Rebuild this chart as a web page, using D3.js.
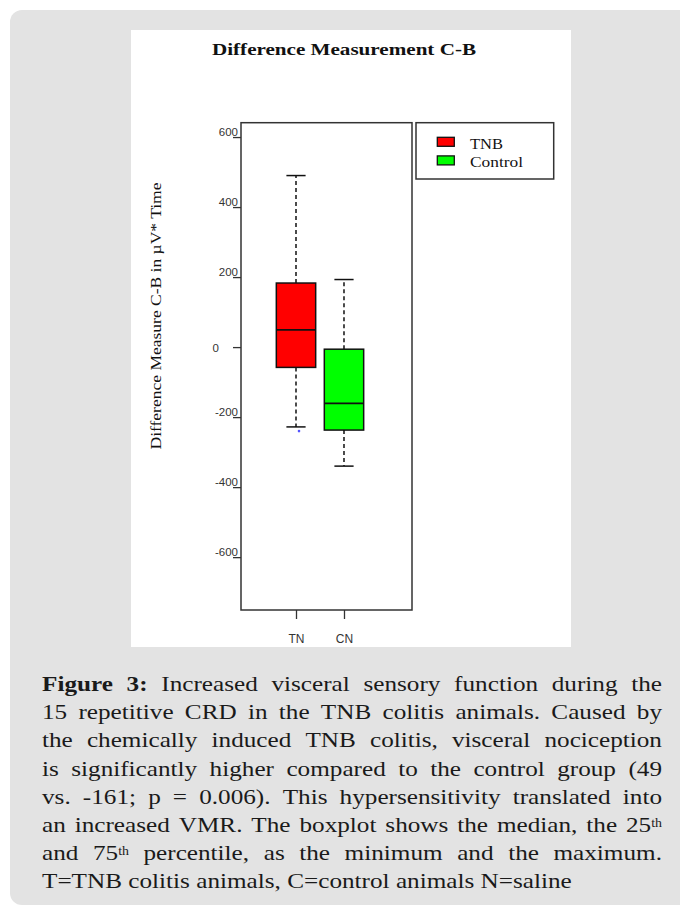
<!DOCTYPE html>
<html>
<head>
<meta charset="utf-8">
<script src="https://cdn.jsdelivr.net/npm/d3@7"></script>
<style>
  html, body { margin: 0; padding: 0; background: #ffffff; }
  svg { display: block; }
</style>
</head>
<body>
<svg id="chart" width="680" height="916"></svg>
<script>
// ---------------- data ----------------
const groups = ["TN", "CN"];
const legendLabels = ["TNB", "Control"];
const boxColors = ["#ff0000", "#00ff00"];
const whiskerMin = [-228, -340];
const q1 = [-58, -237];
const medians = [49, -161];
const q3 = [183, -6];
const whiskerMax = [490, 193];
const outliers = [[0, -240]];          // [group index, value]
const yTicks = [600, 400, 200, 0, -200, -400, -600];
const titleText = "Difference Measurement C-B";
const yLabel = "Difference Measure C-B in \u00b5V* Time";
const captionLines = [
  [{t:"Figure 3:", b:true}, {t:" Increased visceral sensory function during the"}],
  [{t:"15 repetitive CRD in the TNB colitis animals. Caused by"}],
  [{t:"the chemically induced TNB colitis, visceral nociception"}],
  [{t:"is significantly higher compared to the control group (49"}],
  [{t:"vs. -161; p = 0.006). This hypersensitivity translated into"}],
  [{t:"an increased VMR. The boxplot shows the median, the 25"}, {t:"th", sup:true}],
  [{t:"and 75"}, {t:"th", sup:true}, {t:" percentile, as the minimum and the maximum."}],
  [{t:"T=TNB colitis animals, C=control animals N=saline"}]
];

// ---------------- layout ----------------
const svg = d3.select("#chart");
const frame = {left: 241, right: 412, top: 122.7, bottom: 610};

svg.append("rect").attr("x", 10).attr("y", 10).attr("width", 690).attr("height", 895)
  .attr("rx", 12).attr("fill", "#e3e3e3");
svg.append("rect").attr("x", 131).attr("y", 30).attr("width", 440).attr("height", 617)
  .attr("fill", "#ffffff");

const y = d3.scaleLinear().domain([-751, 641]).range([frame.bottom, frame.top]);
const x = d3.scaleLinear().domain([-0.146, 3.417]).range([frame.left, frame.right]);
const pos = groups.map((g, i) => i + 1);
const halfW = 0.41, capW = 0.2;

// title
svg.append("text").attr("x", 344).attr("y", 55).attr("text-anchor", "middle")
  .attr("font-family", "Liberation Serif, serif").attr("font-weight", "bold")
  .attr("font-size", 17).attr("textLength", 264).attr("lengthAdjust", "spacingAndGlyphs")
  .attr("fill", "#111").text(titleText);

// y label
svg.append("text").attr("transform", "translate(161,316) rotate(-90)")
  .attr("text-anchor", "middle").attr("font-family", "Liberation Serif, serif")
  .attr("font-size", 14).attr("textLength", 267).attr("lengthAdjust", "spacingAndGlyphs")
  .attr("fill", "#111").text(yLabel);

// y axis ticks
const yAxis = d3.axisLeft(y).tickValues(yTicks).tickSize(8).tickFormat(d => String(d));
const gy = svg.append("g").attr("transform", `translate(${frame.left},0)`).call(yAxis);
gy.select(".domain").remove();
gy.selectAll(".tick line").attr("stroke", "#333").attr("stroke-width", 1.3);
gy.selectAll(".tick text")
  .attr("font-family", "Liberation Sans, Arial, sans-serif").attr("font-size", 11.5)
  .attr("fill", "#333")
  .attr("x", d => d === 0 ? -22 : -3)
  .attr("dy", d => d === 0 ? "0.35em" : "-0.15em");

// x axis ticks
const xAxis = d3.axisBottom(x).tickValues(pos).tickSize(9).tickFormat((d, i) => groups[i]);
const gx = svg.append("g").attr("transform", `translate(0,${frame.bottom})`).call(xAxis);
gx.select(".domain").remove();
gx.selectAll(".tick line").attr("stroke", "#333").attr("stroke-width", 1.3);
gx.selectAll(".tick text")
  .attr("font-family", "Liberation Sans, Arial, sans-serif").attr("font-size", 12)
  .attr("fill", "#333").attr("y", 24);

// plot frame
svg.append("rect").attr("x", frame.left).attr("y", frame.top)
  .attr("width", frame.right - frame.left).attr("height", frame.bottom - frame.top)
  .attr("fill", "none").attr("stroke", "#333").attr("stroke-width", 1.5);

// boxes
const gb = svg.append("g");
groups.forEach((g, i) => {
  const cx = x(pos[i]);
  gb.append("line").attr("x1", cx).attr("x2", cx).attr("y1", y(q3[i])).attr("y2", y(whiskerMax[i]))
    .attr("stroke", "#111").attr("stroke-width", 1.5).attr("stroke-dasharray", "4,3");
  gb.append("line").attr("x1", cx).attr("x2", cx).attr("y1", y(q1[i])).attr("y2", y(whiskerMin[i]))
    .attr("stroke", "#111").attr("stroke-width", 1.5).attr("stroke-dasharray", "4,3");
  [whiskerMax[i], whiskerMin[i]].forEach(v => {
    gb.append("line").attr("x1", x(pos[i] - capW)).attr("x2", x(pos[i] + capW))
      .attr("y1", y(v)).attr("y2", y(v)).attr("stroke", "#111").attr("stroke-width", 1.5);
  });
  gb.append("rect").attr("x", x(pos[i] - halfW)).attr("y", y(q3[i]))
    .attr("width", x(pos[i] + halfW) - x(pos[i] - halfW)).attr("height", y(q1[i]) - y(q3[i]))
    .attr("fill", boxColors[i]).attr("stroke", "#111").attr("stroke-width", 1.5);
  gb.append("line").attr("x1", x(pos[i] - halfW)).attr("x2", x(pos[i] + halfW))
    .attr("y1", y(medians[i])).attr("y2", y(medians[i])).attr("stroke", "#111").attr("stroke-width", 1.8);
});
outliers.forEach(([gi, v]) => {
  gb.append("circle").attr("cx", x(pos[gi]) + 3).attr("cy", y(v)).attr("r", 1.3).attr("fill", "#5555ff");
});

// legend
const lg = svg.append("g");
lg.append("rect").attr("x", 416).attr("y", 122.7).attr("width", 137.7).attr("height", 56.3)
  .attr("fill", "#fff").attr("stroke", "#333").attr("stroke-width", 1.5);
const legendLens = [33, 53];
legendLabels.forEach((l, i) => {
  const yy = 137.3 + i * 18.6;
  lg.append("rect").attr("x", 437.3).attr("y", yy).attr("width", 17).attr("height", 9)
    .attr("fill", boxColors[i]).attr("stroke", "#111").attr("stroke-width", 1.3);
  lg.append("text").attr("x", 470).attr("y", yy + 11.5).attr("font-family", "Liberation Serif, serif")
    .attr("font-size", 15).attr("textLength", legendLens[i]).attr("lengthAdjust", "spacingAndGlyphs")
    .attr("fill", "#111").text(l);
});

// caption (justified, horizontally widened serif)
const capX0 = 42, capX1 = 662, capY0 = 691, capLH = 28.2, capFS = 21, sx = 1.2;
captionLines.forEach((segs, li) => {
  const yy = capY0 + li * capLH;
  const tokens = [];
  segs.forEach(s => {
    if (s.sup) { tokens.push({t: s.t, sup: true, attach: true}); return; }
    const parts = s.t.split(" ");
    parts.forEach((p, k) => {
      if (p === "") return;
      tokens.push({t: p, b: s.b, attach: (k === 0 && tokens.length > 0 && !s.t.startsWith(" "))});
    });
  });
  const words = [];
  tokens.forEach(tk => {
    if (tk.attach && words.length) words[words.length - 1].push(tk);
    else words.push([tk]);
  });
  const g = svg.append("g");
  const wEls = words.map(w => {
    const t = g.append("text").attr("font-family", "Liberation Serif, serif")
      .attr("font-size", capFS).attr("fill", "#1a1a1a");
    w.forEach(tk => {
      const sp = t.append("tspan").text(tk.t);
      if (tk.b) sp.attr("font-weight", "bold");
      if (tk.sup) sp.attr("font-size", capFS * 0.55).attr("baseline-shift", "50%");
    });
    return t;
  });
  const widths = wEls.map(t => t.node().getComputedTextLength() * sx);
  const total = d3.sum(widths);
  const last = li === captionLines.length - 1;
  const gap = last ? capFS * 0.25 * sx : (capX1 - capX0 - total) / Math.max(1, words.length - 1);
  let cx = capX0;
  wEls.forEach((t, k) => {
    t.attr("transform", `translate(${cx},${yy}) scale(${sx},1)`);
    cx += widths[k] + gap;
  });
});
</script>
</body>
</html>
